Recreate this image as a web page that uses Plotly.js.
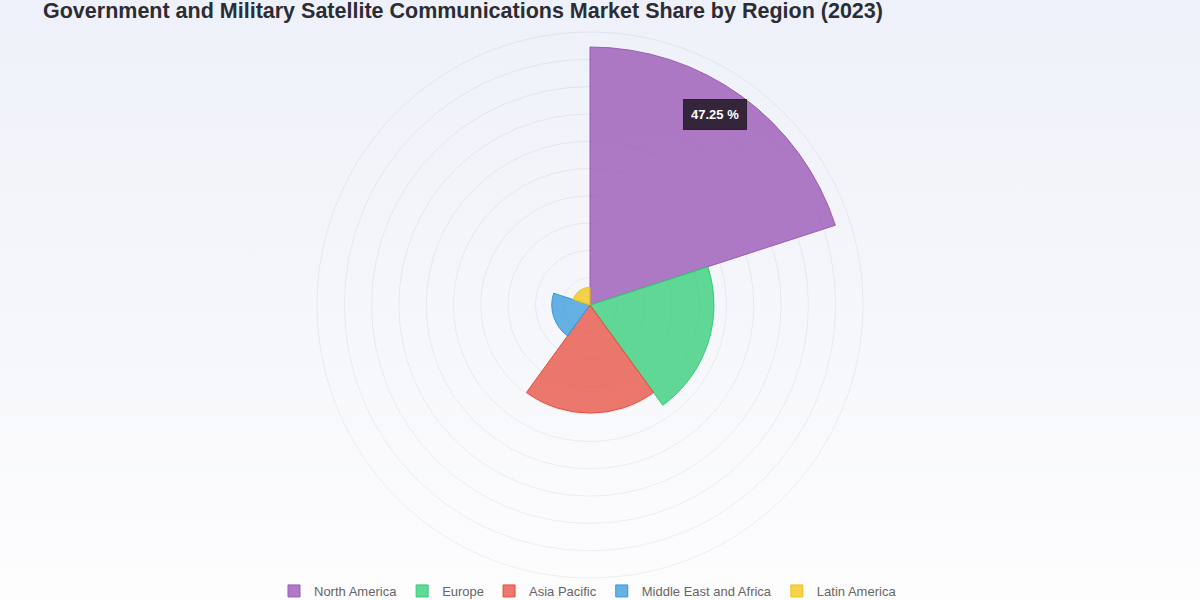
<!DOCTYPE html>
<html>
<head>
<meta charset="utf-8">
<script src="https://cdn.plot.ly/plotly-3.0.1.min.js"></script>
<style>
  html, body { margin: 0; padding: 0; width: 1200px; height: 600px; overflow: hidden;
    background: linear-gradient(to bottom, #eef1f9 0%, #f6f7fb 55%, #fdfdfe 100%); }
  #chart { width: 1200px; height: 600px; }
</style>
</head>
<body>
<div id="chart"></div>
<script>
const chartTitle = "Government and Military Satellite Communications Market Share by Region (2023)";
const regions = ["North America", "Europe", "Asia Pacific", "Middle East and Africa", "Latin America"];
const shares = [47.25, 22.7, 19.8, 7.0, 3.25];
const fillColors = ["rgba(155,89,182,0.8)", "rgba(46,204,113,0.75)", "rgba(231,76,60,0.75)", "rgba(52,152,219,0.75)", "rgba(241,196,15,0.75)"];
const lineColors = ["#9b59b6", "#2ecc71", "#e74c3c", "#3498db", "#f1c40f"];
const radialMax = 50;
const radialStep = 5;

const sectorWidth = 360 / regions.length;
const traces = regions.map((name, i) => ({
  type: "barpolar",
  name: name,
  r: [shares[i]],
  theta: [sectorWidth * i + sectorWidth / 2],
  width: [sectorWidth],
  marker: { color: fillColors[i], line: { color: lineColors[i], width: 1 } },
  hoverinfo: "none"
}));

const cx = 590, cy = 305, R = 273, W = 1200, H = 600;

const layout = {
  width: W, height: H,
  margin: { l: 0, r: 0, t: 0, b: 0, pad: 0, autoexpand: false },
  paper_bgcolor: "rgba(0,0,0,0)",
  plot_bgcolor: "rgba(0,0,0,0)",
  font: { family: "Liberation Sans, Arial, sans-serif", color: "#666" },
  title: {
    text: "<b>" + chartTitle + "</b>",
    x: 43 / W, xanchor: "left", xref: "container",
    y: 1 - 3 / H, yanchor: "top", yref: "container",
    font: { size: 21.5, color: "#2c2c34", family: "Liberation Sans, Arial, sans-serif" }
  },
  showlegend: true,
  legend: {
    orientation: "h",
    x: 0.49, xanchor: "center",
    y: (H - 591) / H, yanchor: "middle",
    font: { size: 13, color: "#666" },
    itemwidth: 30,
    bgcolor: "rgba(0,0,0,0)"
  },
  polar: {
    domain: { x: [(cx - R) / W, (cx + R) / W], y: [(H - cy - R) / H, (H - cy + R) / H] },
    bgcolor: "rgba(0,0,0,0)",
    bargap: 0,
    radialaxis: {
      range: [0, radialMax],
      dtick: radialStep,
      tick0: 0,
      showticklabels: false,
      ticks: "",
      showline: false,
      gridcolor: "rgba(0,0,0,0.06)",
      gridwidth: 1
    },
    angularaxis: {
      rotation: 90,
      direction: "clockwise",
      showticklabels: false,
      ticks: "",
      showgrid: false,
      showline: true,
      linecolor: "rgba(0,0,0,0.06)",
      linewidth: 1
    }
  },
  annotations: [{
    text: "<b>" + shares[0] + " %</b>",
    xref: "paper", yref: "paper",
    x: 715 / W, y: (H - 115) / H,
    xanchor: "center", yanchor: "middle",
    showarrow: false,
    bgcolor: "rgba(35,25,40,0.88)",
    borderpad: 7,
    bordercolor: "rgba(35,25,40,0.88)",
    font: { size: 13, color: "#ffffff", family: "Liberation Sans, Arial, sans-serif" }
  }]
};

Plotly.newPlot("chart", traces, layout, { displayModeBar: false, staticPlot: true });
</script>
</body>
</html>
